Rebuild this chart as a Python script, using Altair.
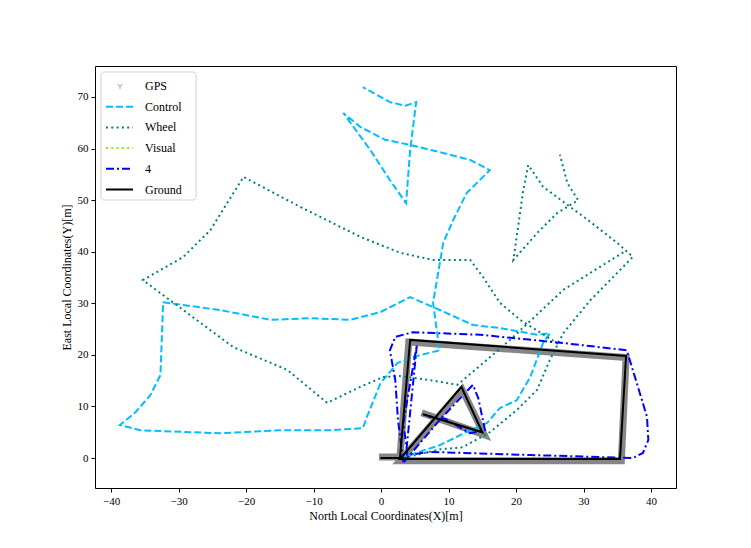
import pandas as pd
import altair as alt

# series vertices (metres)
control_x = [2.8, 8.7, 13.2, 15.7, 17.6, 20.1, 22.1, 24.0, 25.0, 23.1, 17.6, 13.6, 8.7, 4.3, -0.1, -4.6,
             -10.5, -16.4, -23.9, -32.3, -32.7, -34.2, -36.4, -38.7, -35.7, -23.9, -15.0, -7.6, -2.7, -2.1,
             -0.1, 2.4, 4.7, 8.7, 8.3, 7.7, 8.7, 9.2, 10.7, 12.7, 16.1, 13.2, 8.7, 4.3, 0.6, -3.1, -5.6,
             -1.6, 1.3, 3.7, 4.3, 5.2, 3.6, 1.3, -2.7]
control_y = [0, 2.5, 5.4, 6.8, 9.7, 11.2, 15.7, 22.3, 24.2, 23.9, 25.2, 25.8, 28.7, 31.2, 28.3, 26.8,
             27.1, 26.8, 28.7, 30.2, 16.1, 12.2, 8.9, 6.4, 5.4, 4.8, 5.4, 5.4, 5.8, 8.0,
             14.5, 18.4, 19.6, 20.9, 24.2, 30.1, 37.8, 41.7, 46.2, 51.4, 55.8, 57.8, 59.3, 60.7, 61.7, 64.2, 66.9,
             59.7, 53.9, 49.4, 59.7, 69.0, 68.3, 69.0, 71.9]

wheel1_x = [3.3, 8.7, 12.1, 16.1, 20.1, 23.1, 25.0, 27.0, 31.0, 35.0, 37.3, 35.0, 31.0, 27.6, 24.0, 21.8,
            21.0, 20.3, 19.6, 23.1, 26.1, 29.2, 27.6, 26.5]
wheel1_y = [0, 1.7, 2.1, 5.0, 9.3, 13.2, 19.0, 24.2, 30.6, 35.9, 39.0, 41.7, 45.8, 49.1, 52.6, 56.8,
            51.4, 44.8, 38.4, 43.6, 47.5, 50.0, 53.3, 58.8]
wheel2_x = [35.9, 27.0, 19.1, 15.1, 11.3, 7.3, 2.8, 0.3, -3.1, -8.0, -13.9, -21.9, -35.3, -29.3, -25.3,
            -20.4, -12.0, -3.1, 2.8, 7.7, 13.2, 15.1, 17.6, 20.6, 24.6, 26.5]
wheel2_y = [39.9, 32.6, 22.9, 18.4, 14.2, 15.1, 15.9, 15.7, 13.8, 10.7, 17.1, 21.5, 34.5, 39.0, 44.2,
            54.5, 48.7, 42.9, 39.8, 38.4, 38.4, 35.1, 30.1, 26.8, 23.5, 21.9]

est_x = [3.3, 2.5, 2.1, 1.3, 2.1, 4.7, 14.7, 27.0, 36.4, 37.9, 39.4, 39.6, 38.8, 37.3, 22.1, 7.3, 3.9,
         3.3, 4.3, 5.3, 3.6, 8.7, 13.6, 14.4, 15.4, 13.2, 9.5, 7.0]
est_y = [-0.8, 7.4, 15.1, 20.9, 23.5, 24.4, 23.9, 22.3, 20.9, 14.5, 8.0, 3.5, 1.0, 0, 0.6, 1.2, 0.6,
         6.8, 14.5, 21.9, -0.4, 7.4, 14.2, 11.6, 5.4, 4.8, 7.6, 8.1]

ground_x = [-0.1, 2.8, 4.3, 36.3, 35.4, 2.8, 11.9, 15.0, 6.2]
ground_y = [0, 0, 22.9, 19.8, -0.2, -0.2, 13.8, 5.0, 8.5]

gps_x = [-0.3, 2.8, 4.1, 36.3, 35.6, 2.8, 12.0, 15.3, 6.0]
gps_y = [0.2, 0.2, 22.5, 19.5, -0.5, -0.5, 13.3, 4.5, 8.8]

FONT = "Liberation Serif"


def frame(xs, ys, seg=0):
    return pd.DataFrame({"x": xs, "y": ys, "order": range(len(xs)), "seg": seg})


xs = alt.Scale(domain=[-42.4, 43.7], nice=False, zero=False)
ys = alt.Scale(domain=[-5.8, 76.0], nice=False, zero=False)


def path(df, color, width, dash=None, opacity=1.0):
    kw = dict(color=color, strokeWidth=width, clip=True, opacity=opacity)
    if dash:
        kw["strokeDash"] = dash
    return alt.Chart(df).mark_line(**kw).encode(
        x=alt.X("x:Q", scale=xs, axis=alt.Axis(values=list(range(-40, 41, 10)),
                                               title="North Local Coordinates(X)[m]")),
        y=alt.Y("y:Q", scale=ys, axis=alt.Axis(values=list(range(0, 71, 10)),
                                               title="East Local Coordinates(Y)[m]")),
        order="order:Q",
        detail="seg:N",
    )


layers = [
    path(frame(gps_x, gps_y), "#808080", 7, opacity=0.95),
    path(frame(control_x, control_y), "#00bfff", 2, [7, 3]),
    path(pd.concat([frame(wheel1_x, wheel1_y, 0), frame(wheel2_x, wheel2_y, 1)]), "#008080", 2, [2, 3.3]),
    path(frame(est_x, est_y), "#0000ff", 2, [8, 3, 2, 3]),
    path(frame(ground_x, ground_y), "#000000", 2),
]

# legend drawn by hand, matplotlib style
names = ["GPS", "Control", "Wheel", "Visual", "4", "Ground"]
styles = [("#808080", None), ("#00bfff", [7, 3]), ("#008080", [2, 3.3]),
          ("#7cfc00", [2, 3.3]), ("#0000ff", [8, 3, 2, 3]), ("#000000", None)]
one = pd.DataFrame({"a": [0]})
layers.append(alt.Chart(one).mark_rect(fill="white", stroke="#cccccc", cornerRadius=3, opacity=0.9).encode(
    x=alt.value(6), x2=alt.value(101), y=alt.value(6), y2=alt.value(134)))
for i, (name, (col, dash)) in enumerate(zip(names, styles)):
    yy = 20 + 20.7 * i
    if name == "GPS":
        layers.append(alt.Chart(one).mark_point(
            shape="M0,0L0,1M0,0L-0.87,-0.5M0,0L0.87,-0.5", size=40, stroke=col, strokeWidth=1
        ).encode(x=alt.value(25), y=alt.value(yy)))
    else:
        kw = dict(color=col, strokeWidth=2)
        if dash:
            kw["strokeDash"] = dash
        layers.append(alt.Chart(one).mark_rule(**kw).encode(
            x=alt.value(11), x2=alt.value(38), y=alt.value(yy)))
    layers.append(alt.Chart(one).mark_text(text=name, align="left", baseline="middle",
                                           font=FONT, fontSize=12, color="black").encode(
        x=alt.value(50), y=alt.value(yy)))

chart = alt.layer(*layers).properties(
    width=581, height=422,
    padding={"left": 87, "top": 58, "right": 10, "bottom": 55},
    autosize=alt.AutoSizeParams(type="none"),
).configure_view(stroke="black", strokeWidth=1).configure_axis(
    grid=False, domain=False, tickColor="black", tickSize=4, labelColor="black",
    labelFont=FONT, labelFontSize=11, titleFont=FONT, titleFontSize=12,
    titleFontWeight="normal", titleColor="black", labelPadding=3,
)

chart.save("out.html", embed_options={"renderer": "svg", "actions": False})
